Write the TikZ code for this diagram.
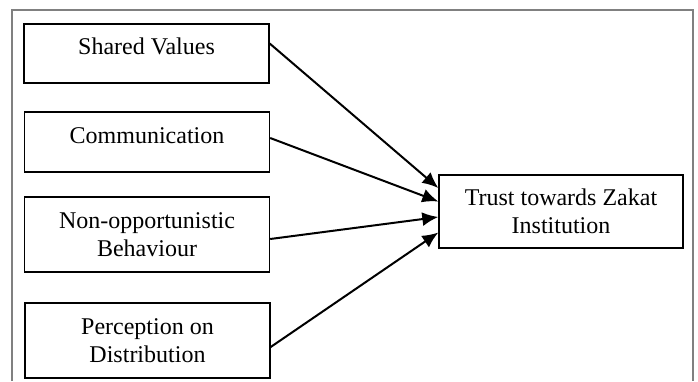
\documentclass[tikz,border=0pt]{standalone}
\usepackage{fontspec}
\setmainfont{Liberation Serif}
\usetikzlibrary{arrows.meta}

\begin{document}
\begin{tikzpicture}[x=1pt,y=-1pt,
        box/.style={rectangle,draw=black,line width=1.4pt,align=center,
                    minimum width=245pt,inner sep=0pt,
                    font=\fontsize{24}{28}\selectfont},
        arr/.style={-{Latex[length=16pt,width=14pt]},line width=2pt}]
        \useasboundingbox (0,0) rectangle (698,381);
        % outer frame, cut off at the bottom
        \draw[gray,line width=1.3pt] (12,381) -- (12,10) -- (693,10) -- (693,381);
        % factors
        \node[box,minimum height=59pt,text depth=14pt] (shared) at (146.5,53.5) {Shared Values};
        \node[box,minimum height=60pt,text depth=12pt] (comm) at (147,142) {Communication};
        \node[box,minimum height=75pt] (behav) at (147,234.5) {Non-opportunistic\\Behaviour};
        \node[box,minimum height=75pt] (distr) at (147.5,340.5) {Perception on\\Distribution};
        % outcome
        \node[box,minimum height=73pt,minimum width=244pt] (trust) at (561,211.5) {Trust towards Zakat\\Institution};
        % paths
        \draw[arr] ([yshift=10pt]shared.east) -- ([yshift=23.5pt]trust.west);
        \draw[arr] ([yshift=4pt]comm.east) -- ([yshift=10pt]trust.west);
        \draw[arr] ([yshift=-4.5pt]behav.east) -- ([yshift=-5.5pt]trust.west);
        \draw[arr] ([yshift=-6.5pt]distr.east) -- ([yshift=-21pt]trust.west);
\end{tikzpicture}
\end{document}
